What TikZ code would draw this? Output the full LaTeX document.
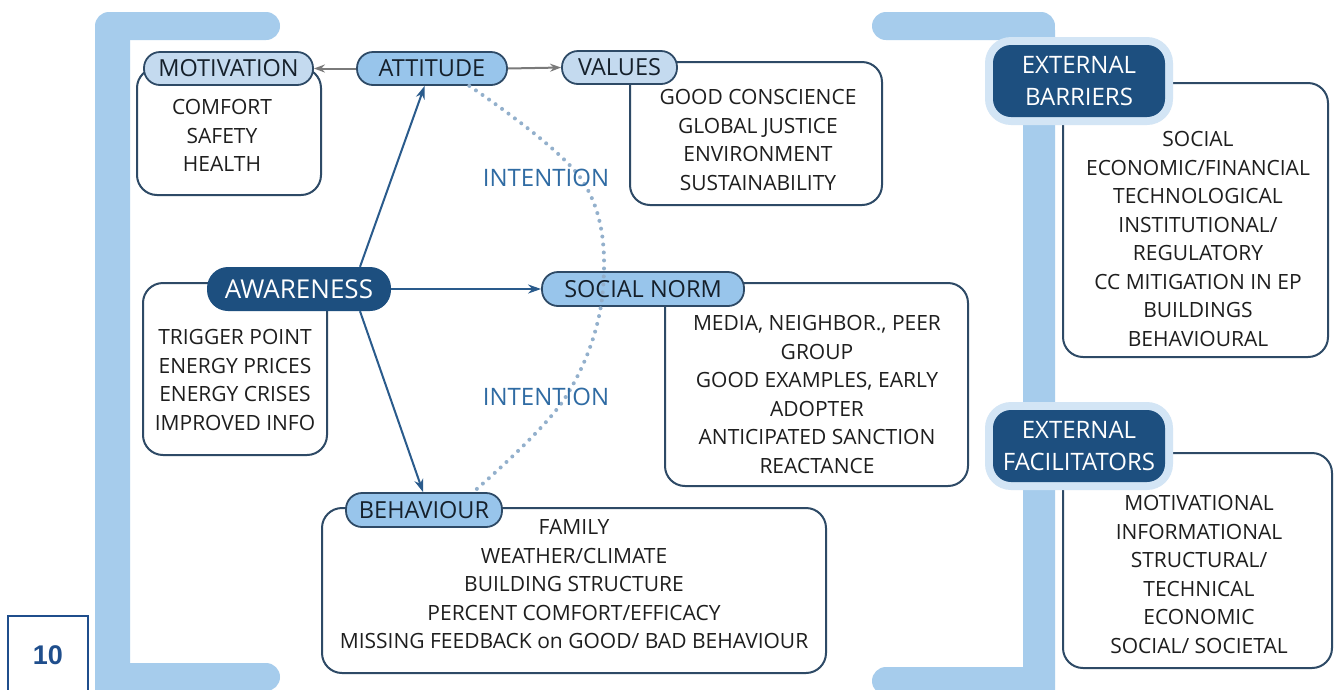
\documentclass[tikz,border=0pt]{standalone}
\usepackage{fontspec}
\setmainfont{Open Sans}
\newfontfamily\numfont{Liberation Sans}
\usetikzlibrary{arrows.meta,calc}
\definecolor{brk}{HTML}{A6CCEC}
\definecolor{frame}{HTML}{2E4A66}
\definecolor{pillpale}{HTML}{C4DAEF}
\definecolor{pillmid}{HTML}{98C5EB}
\definecolor{darkpill}{HTML}{1D4F7F}
\definecolor{halo}{HTML}{D3E5F5}
\definecolor{arrblue}{HTML}{2A5B8C}
\definecolor{arrgray}{HTML}{7A7A7A}
\definecolor{dotc}{HTML}{93B0CC}
\definecolor{intc}{HTML}{2F6BA3}
\definecolor{txt}{HTML}{1E1E1E}
\definecolor{pilltxt}{HTML}{15202B}
\definecolor{pagebl}{HTML}{1F4E8C}
\begin{document}
\begin{tikzpicture}[x=1pt,y=-1pt,
  frm/.style={draw=frame, line width=2pt, rounded corners=20pt, inner sep=0pt},
  pill/.style={draw=frame, line width=1.8pt, rounded corners=16pt, inner sep=0pt,
    minimum height=33pt, text=pilltxt, font=\fontsize{23.5}{28}\selectfont},
  palepill/.style={pill, fill=pillpale},
  midpill/.style={pill, fill=pillmid},
  body/.style={align=center, font=\fontsize{21}{28.5}\selectfont, text=txt, inner sep=0pt, anchor=north},
  extpill/.style={fill=darkpill, rounded corners=18pt, inner sep=0pt, minimum width=172pt,
    minimum height=72pt, text=white, align=center, font=\fontsize{24}{32}\selectfont},
  halobox/.style={fill=halo, rounded corners=26pt, inner sep=0pt, minimum width=188pt, minimum height=88pt},
  arrb/.style={draw=arrblue, line width=2pt, -{Stealth[length=13pt, width=9pt]}},
  arrg/.style={draw=arrgray, line width=2pt, -{Stealth[length=11pt, width=8pt]}},
  dotarc/.style={draw=dotc, line width=4pt, dash pattern=on 0pt off 8pt, line cap=round},
  intl/.style={text=intc, inner sep=0pt, font=\fontsize{24}{28}\selectfont}
]
\useasboundingbox (0,0) rectangle (1335,689);
\clip (0,0) rectangle (1335,689);
\fill[white] (0,0) rectangle (1335,689);

% brackets
\fill[brk, rounded corners=18pt] (95,12) rectangle (130,720);
\fill[brk, rounded corners=14pt] (95,12) rectangle (280,40);
\fill[brk, rounded corners=14pt] (95,663) rectangle (280,691);
\fill[brk, rounded corners=18pt] (1023,12) rectangle (1055,720);
\fill[brk, rounded corners=14pt] (872,12) rectangle (1055,40);
\fill[brk, rounded corners=14pt] (872,667) rectangle (1055,695);

% page number
\draw[pagebl, line width=2.5pt] (8,616) rectangle (88,710);
\node[text=pagebl, inner sep=0pt, font=\numfont\bfseries\fontsize{27}{30}\selectfont] (pg) at (48,655) {10};

% frames
\node[frm, minimum width=184pt, minimum height=127pt] (motbox) at (229,131.5) {};
\node[frm, minimum width=252pt, minimum height=143pt] (valbox) at (756,133.5) {};
\node[frm, minimum width=184pt, minimum height=172pt] (awbox) at (235,369) {};
\node[frm, minimum width=303pt, minimum height=203pt] (snbox) at (816.5,384.5) {};
\node[frm, minimum width=504pt, minimum height=165pt] (behbox) at (574,590.5) {};
\node[frm, minimum width=265pt, minimum height=274pt] (barbox) at (1195.5,220) {};
\node[frm, minimum width=269pt, minimum height=215pt] (facbox) at (1197.5,560.5) {};

% body texts
\node[body] (mottxt) at (222,99.5) {COMFORT\\SAFETY\\HEALTH};
\node[body] (valtxt) at (758,89.5) {GOOD CONSCIENCE\\GLOBAL JUSTICE\\ENVIRONMENT\\SUSTAINABILITY};
\node[body] (awtxt) at (235,329.5) {TRIGGER POINT\\ENERGY PRICES\\ENERGY CRISES\\IMPROVED INFO};
\node[body] (sntxt) at (817,315.5) {MEDIA, NEIGHBOR., PEER\\GROUP\\GOOD EXAMPLES, EARLY\\ADOPTER\\ANTICIPATED SANCTION\\REACTANCE};
\node[body] (behtxt) at (574,519.5) {FAMILY\\WEATHER/CLIMATE\\BUILDING STRUCTURE\\PERCENT COMFORT/EFFICACY\\MISSING FEEDBACK on GOOD/ BAD BEHAVIOUR};
\node[body] (bartxt) at (1198,131.5) {SOCIAL\\ECONOMIC/FINANCIAL\\TECHNOLOGICAL\\INSTITUTIONAL/\\REGULATORY\\CC MITIGATION IN EP\\BUILDINGS\\BEHAVIOURAL};
\node[body] (factxt) at (1199,495.5) {MOTIVATIONAL\\INFORMATIONAL\\STRUCTURAL/\\TECHNICAL\\ECONOMIC\\SOCIAL/ SOCIETAL};

% intention arc
\coordinate (i1) at (582,180);
\coordinate (i2) at (603,289);
\coordinate (i3) at (565,398);

% pills
\node[palepill, minimum width=169pt] (mot) at (228.5,68.5) {MOTIVATION};
\node[midpill, minimum width=150pt] (att) at (432,68.5) {ATTITUDE};
\node[palepill, minimum width=115pt] (val) at (619.5,67.5) {VALUES};
\node[midpill, minimum width=202pt, minimum height=34pt] (sn) at (643,289) {SOCIAL NORM};
\node[midpill, minimum width=156pt, minimum height=34pt] (beh) at (424,510) {BEHAVIOUR};
\node[fill=darkpill, rounded corners=21pt, inner sep=0pt, minimum width=184pt, minimum height=44pt,
  text=white, font=\fontsize{26}{30}\selectfont] (aw) at (299,289) {AWARENESS};

\draw[dotarc] plot[smooth, tension=0.6] coordinates {(att.-25) (i1) (i2) (i3) (beh.20)};

\node[intl] (int1) at (546,178) {INTENTION};
\node[intl] (int2) at (546,397) {INTENTION};

% external
\node[halobox] (barhalo) at (1079,81) {};
\node[extpill] (bar) at (1079,81) {EXTERNAL\\BARRIERS};
\node[halobox] (fachalo) at (1079,446) {};
\node[extpill] (fac) at (1079,446) {EXTERNAL\\FACILITATORS};

% arrows
\draw[arrg] (att.west) -- (mot.east);
\draw[arrg] (att.east) -- (val.west);
\draw[arrb] (aw.20) -- (att.247);
\draw[arrb] (aw.east) -- (sn.west);
\draw[arrb] (aw.-20) -- (beh.93);
\end{tikzpicture}
\end{document}
